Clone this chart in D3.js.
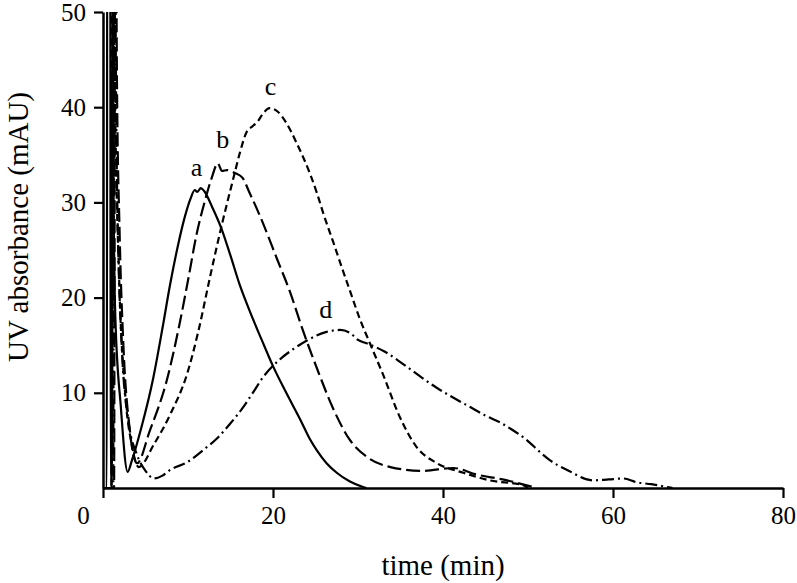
<!DOCTYPE html>
<html>
<head>
<meta charset="utf-8">
<script src="https://cdn.jsdelivr.net/npm/d3@7"></script>
<style>
  body { margin: 0; background: #fff; }
  svg { display: block; }
  text { font-family: "Liberation Serif", "Times New Roman", serif; fill: #000; }
  .axis path, .axis line { stroke: #000; }
</style>
</head>
<body>
<div id="chart"></div>
<script>
// chromatograms, [time (min), absorbance (mAU)]
const curveA = [[0,0],[0.45,0],[0.5,70],[0.85,70],[0.9,0],[1.1,0],[1.15,70],[1.25,30],[1.45,18],[2.1,8.5],[2.9,1.7],[3.4,2.9],[4.5,6.3],[5.9,11.5],[7,16.8],[7.9,21.4],[8.8,25.4],[9.6,28.4],[10.3,30.4],[10.8,31.3],[11.1,31.1],[11.5,31.5],[11.9,31.2],[12.8,29.6],[14,27.1],[15,24.4],[16.1,21.3],[17.3,18.5],[18.7,15.5],[20,12.8],[21.5,10.1],[23.2,7.2],[24.3,5.2],[25.2,3.9],[26.3,2.6],[27.5,1.6],[29,0.7],[30.6,0.1],[31,0]]
const curveB = [[0,0],[1.3,0],[1.45,70],[1.65,42],[1.95,27],[2.4,15],[3.1,6.5],[4,2.6],[5.5,6],[7.5,11.3],[9,17.2],[10,21.8],[11,26.6],[12,30.2],[12.8,32.6],[13.5,34.1],[14,33.3],[14.6,33.4],[15.5,33.1],[16.4,32.6],[17.2,31.1],[18.5,28.5],[20.5,24],[22,20.6],[23.5,16.6],[25.2,12.5],[27.1,8.3],[29,5.1],[31,3.3],[33.8,2.2],[37.6,1.8],[41.2,2.1],[44,1.4],[47,0.9],[50.6,0.1],[51,0]]
const curveC = [[0,0],[1.0,0],[1.1,70],[1.4,42],[1.9,22],[2.6,10],[3.4,4.5],[4.2,2.2],[6,4.6],[8,7.9],[9.9,12],[11.2,16.4],[12.6,22.2],[14.1,28.1],[15.3,32.4],[16.1,35.2],[16.9,37.4],[17.6,38],[18.2,38.5],[18.8,39.3],[19.6,39.9],[20.6,39.5],[21.6,38.3],[22.8,36.2],[24.4,32.9],[25.2,30.9],[25.9,28.9],[27.1,25.8],[28.2,22.9],[29.1,20.6],[30.2,17.8],[31.4,15.2],[33,11.8],[34.9,7.5],[36.9,4.3],[39.3,2.6],[42.4,1.6],[45.5,0.8],[49.4,0.3],[50,0]]
const curveD = [[0,0],[1.2,0],[1.3,70],[1.6,35],[2.2,15],[3,7],[4,3.5],[5,1.8],[6,1.0],[7,1.3],[7.9,1.9],[9.9,2.7],[11.8,4],[13.4,5.2],[15,6.8],[16.5,8.5],[17.7,10.1],[18.8,11.6],[20.8,13.5],[22.4,14.6],[24,15.5],[26.3,16.4],[27.9,16.6],[29.2,16.2],[29.9,15.6],[31,15.2],[33,14.4],[35.8,12.7],[37.5,11.6],[39.3,10.5],[40.8,9.7],[43.2,8.5],[45,7.6],[46.7,6.9],[48,6.2],[49.9,5],[51.5,3.7],[52.6,2.9],[54.6,1.9],[57.6,0.8],[59.5,0.9],[61.2,1.0],[62.8,0.6],[64.5,0.4],[66.4,0.1],[67,0]]

const curveNames = ['a', 'b', 'c', 'd']
// where the letters sit, in data units
const labelPos = [[11.0, 32.8], [14.1, 35.7], [19.7, 41.3], [26.2, 17.9]]

const xTicks = [0, 20, 40, 60, 80]
const yTicks = [10, 20, 30, 40, 50]

const width = 797
const height = 583
const margin = { top: 12, right: 14, bottom: 95, left: 103 }
const innerW = width - margin.left - margin.right
const innerH = height - margin.top - margin.bottom

const svg = d3.select('#chart')
  .append('svg')
  .attr('width', width)
  .attr('height', height)

const g = svg.append('g')
  .attr('transform', `translate(${margin.left}, ${margin.top})`)

const x = d3.scaleLinear().domain([0, 80]).range([0, innerW])
const y = d3.scaleLinear().domain([0, 50]).range([innerH, 0])

g.append('clipPath')
  .attr('id', 'plot-clip')
  .append('rect')
  .attr('width', innerW)
  .attr('height', innerH)

const line = d3.line()
  .x(d => x(d[0]))
  .y(d => y(d[1]))
  .curve(d3.curveMonotoneX)

const dashes = ['none', '14,5', '7,4', '12,4,2,4']
const curves = [curveA, curveB, curveC, curveD]

g.append('g')
  .attr('clip-path', 'url(#plot-clip)')
  .selectAll('path')
  .data(curves)
  .enter()
  .append('path')
  .attr('d', d => line(d))
  .attr('fill', 'none')
  .attr('stroke', '#000')
  .attr('stroke-width', 2.2)
  .attr('stroke-dasharray', (d, i) => dashes[i])

g.selectAll('.curve-label')
  .data(curveNames)
  .enter()
  .append('text')
  .attr('class', 'curve-label')
  .attr('x', (d, i) => x(labelPos[i][0]))
  .attr('y', (d, i) => y(labelPos[i][1]))
  .attr('text-anchor', 'middle')
  .style('font-size', '26px')
  .text(d => d)

// axes
const xAxis = g.append('g')
  .attr('class', 'axis')
  .attr('transform', `translate(0, ${innerH})`)
  .call(d3.axisBottom(x).tickValues(xTicks).tickSize(10).tickSizeOuter(0).tickPadding(8))
xAxis.select('.domain').attr('stroke-width', 2.5)
xAxis.selectAll('line').attr('stroke-width', 2.2)
xAxis.selectAll('text').style('font-size', '25px')
  .attr('dx', d => d === 0 ? -20 : 0)

const yAxis = g.append('g')
  .attr('class', 'axis')
  .call(d3.axisLeft(y).tickValues(yTicks).tickSize(9).tickSizeOuter(0).tickPadding(8))
yAxis.select('.domain').attr('stroke-width', 2.5)
yAxis.selectAll('line').attr('stroke-width', 2.2)
yAxis.selectAll('text').style('font-size', '25px')

svg.append('text')
  .attr('x', margin.left + x(40))
  .attr('y', 575)
  .attr('text-anchor', 'middle')
  .style('font-size', '29px')
  .text('time (min)')

svg.append('text')
  .attr('transform', `translate(28, 227) rotate(-90)`)
  .attr('text-anchor', 'middle')
  .style('font-size', '29px')
  .text('UV absorbance (mAU)')
</script>
</body>
</html>
